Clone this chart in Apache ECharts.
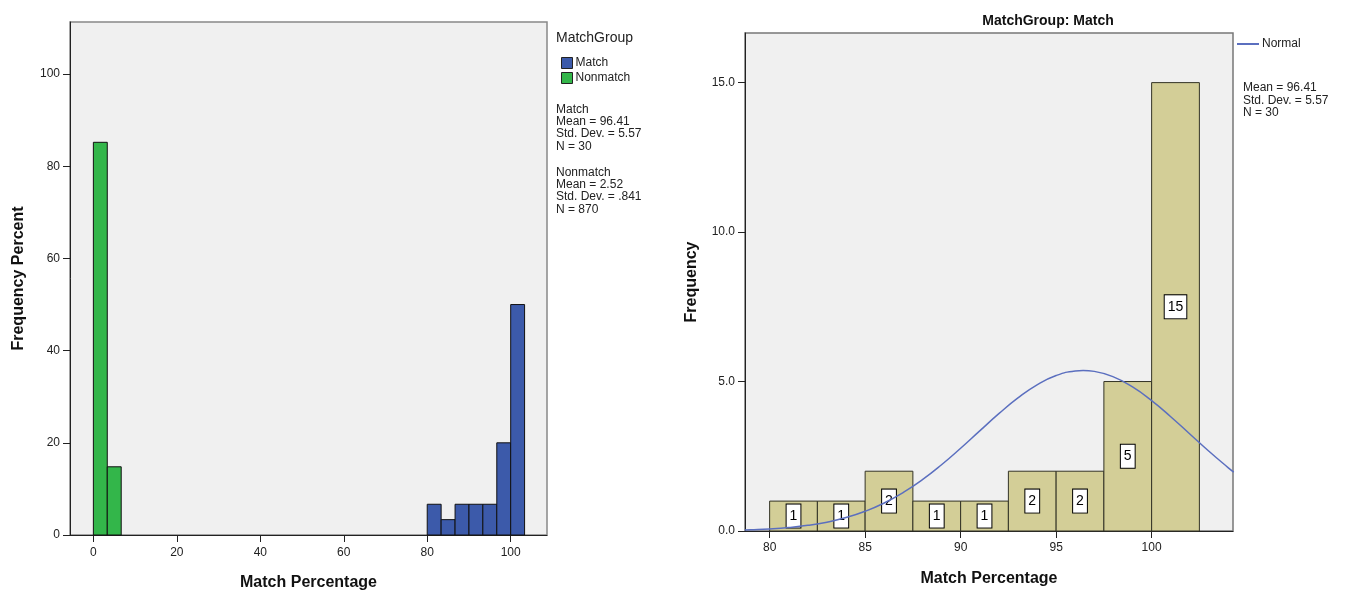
<!DOCTYPE html>
<html>
<head>
<meta charset="utf-8">
<script src="https://cdn.jsdelivr.net/npm/echarts@6/dist/echarts.min.js"></script>
<style>html,body{margin:0;padding:0;background:#fff;}#c{width:1354px;height:592px;}</style>
</head>
<body>
<div id="c"></div>
<script>
// Left panel: frequency percent histograms (bin start, bin end, percent)
const matchPct = [[80,83.33,6.67],[83.33,86.67,3.33],[86.67,90,6.67],[90,93.33,6.67],[93.33,96.67,6.67],[96.67,100,20],[100,103.33,50]];
const nonmatchPct = [[0,3.33,85.2],[3.33,6.67,14.8]];
const leftXTicks = [0,20,40,60,80,100];
const leftYTicks = [0,20,40,60,80,100];
// Right panel: Match group frequency histogram (bin start, bin end, count)
const matchFreq = [[80,82.5,1],[82.5,85,1],[85,87.5,2],[87.5,90,1],[90,92.5,1],[92.5,95,2],[95,97.5,2],[97.5,100,5],[100,102.5,15]];
// Normal curve points (x, frequency)
const normalCurve = [[78.7,0.034],[79,0.041],[80,0.070],[81,0.117],[82,0.189],[83,0.296],[84,0.449],[85,0.659],[86,0.937],[87,1.289],[88,1.717],[89,2.217],[90,2.770],[91,3.350],[92,3.925],[93,4.452],[94,4.890],[95,5.201],[96,5.355],[96.41,5.37],[97,5.340],[98,5.155],[99,4.820],[100,4.363],[101,3.824],[102,3.245],[103,2.667],[104,2.122],[104.3,1.969]];
const rightXTicks = [80,85,90,95,100];
const rightYTicks = [0,5,10,15];
const matchStats = ['Match','Mean = 96.41','Std. Dev. = 5.57','N = 30'];
const nonmatchStats = ['Nonmatch','Mean = 2.52','Std. Dev. = .841','N = 870'];
const rightStats = ['Mean = 96.41','Std. Dev. = 5.57','N = 30'];

const FONT = 'Liberation Sans, Arial, sans-serif';
const chart = echarts.init(document.getElementById('c'));

function histRender(withLabel) {
  return function (params, api) {
    const x0 = api.value(0), x1 = api.value(1), v = api.value(2);
    const p0 = api.coord([x0, v]);
    const p1 = api.coord([x1, 0]);
    const el = {
      type: 'rect',
      shape: { x: p0[0], y: p0[1], width: p1[0] - p0[0], height: p1[1] - p0[1] },
      style: api.style({ stroke: withLabel ? '#333326' : '#111', lineWidth: 1 })
    };
    if (withLabel) {
      el.textContent = {
        style: {
          text: String(v), fill: '#000', fontSize: 14, fontFamily: FONT,
          backgroundColor: '#fff', borderColor: '#000', borderWidth: 1, padding: [5, 3, 4, 3]
        }
      };
      el.textConfig = { position: 'inside' };
    }
    return el;
  };
}

const axisCommon = {
  axisLine: { show: true, onZero: false, lineStyle: { color: '#222', width: 1 } },
  axisTick: { show: true, length: 7, lineStyle: { color: '#222' } },
  axisLabel: { color: '#222', fontSize: 12, fontFamily: FONT, margin: 10 },
  splitLine: { show: false },
  nameTextStyle: { color: '#111', fontSize: 16, fontWeight: 'bold', fontFamily: FONT }
};

function mk(base, extra) { return echarts.util.merge(echarts.util.clone(base), extra, true); }

const option = {
  animation: false,
  backgroundColor: '#fff',
  textStyle: { fontFamily: FONT },
  title: {
    text: 'MatchGroup: Match', left: 1043, top: 9, textAlign: 'center',
    textStyle: { fontSize: 14, fontWeight: 'bold', color: '#111', fontFamily: FONT }
  },
  legend: [
    {
      data: [
        { name: 'Match', itemStyle: { color: '#3c5aaa', borderColor: '#222', borderWidth: 1 } },
        { name: 'Nonmatch', itemStyle: { color: '#33b64a', borderColor: '#222', borderWidth: 1 } }
      ],
      orient: 'vertical', left: 561, top: 57, padding: 0, itemWidth: 11, itemHeight: 11, itemGap: 3,
      icon: 'rect', selectedMode: false,
      textStyle: { fontSize: 12, color: '#222', fontFamily: FONT, padding: [0, 0, 0, -2] }
    },
    {
      data: [{ name: 'Normal', icon: 'rect', itemStyle: { color: '#5b6fbf' } }],
      left: 1237, top: 38, padding: 0, itemWidth: 22, itemHeight: 2, selectedMode: false,
      textStyle: { fontSize: 12, color: '#222', fontFamily: FONT, padding: [0, 0, 0, -2] }
    }
  ],
  grid: [
    { left: 70, top: 22, width: 477, height: 513, outerBoundsMode: 'none', containLabel: false, show: true, backgroundColor: '#f0f0f0', borderColor: '#888', borderWidth: 1.5 },
    { left: 745, top: 33, width: 488, height: 498, outerBoundsMode: 'none', containLabel: false, show: true, backgroundColor: '#f0f0f0', borderColor: '#777', borderWidth: 1.5 }
  ],
  xAxis: [
    mk(axisCommon, {
      type: 'value', gridIndex: 0, min: -5.6, max: 108.7,
      name: 'Match Percentage', nameLocation: 'middle', nameGap: 40,
      axisTick: { customValues: leftXTicks }, axisLabel: { customValues: leftXTicks, margin: 12 }
    }),
    mk(axisCommon, {
      type: 'value', gridIndex: 1, min: 78.71, max: 104.26,
      name: 'Match Percentage', nameLocation: 'middle', nameGap: 40,
      axisTick: { customValues: rightXTicks }, axisLabel: { customValues: rightXTicks, margin: 11 }
    })
  ],
  yAxis: [
    mk(axisCommon, {
      type: 'value', gridIndex: 0, min: 0, max: 111.3,
      name: 'Frequency Percent', nameLocation: 'middle', nameGap: 43, nameRotate: 90,
      axisTick: { customValues: leftYTicks }, axisLabel: { customValues: leftYTicks }
    }),
    mk(axisCommon, {
      type: 'value', gridIndex: 1, min: 0, max: 16.66,
      name: 'Frequency', nameLocation: 'middle', nameGap: 45, nameRotate: 90,
      axisTick: { customValues: rightYTicks },
      axisLabel: { customValues: rightYTicks, formatter: v => Number(v).toFixed(1) }
    })
  ],
  series: [
    {
      name: 'Match', type: 'custom', xAxisIndex: 0, yAxisIndex: 0,
      itemStyle: { color: '#3c5aaa' }, renderItem: histRender(false),
      encode: { x: [0, 1], y: 2 }, data: matchPct
    },
    {
      name: 'Nonmatch', type: 'custom', xAxisIndex: 0, yAxisIndex: 0,
      itemStyle: { color: '#33b64a' }, renderItem: histRender(false),
      encode: { x: [0, 1], y: 2 }, data: nonmatchPct
    },
    {
      name: 'Frequency', type: 'custom', xAxisIndex: 1, yAxisIndex: 1,
      itemStyle: { color: '#d3ce97' }, renderItem: histRender(true),
      encode: { x: [0, 1], y: 2 }, data: matchFreq
    },
    {
      name: 'Normal', type: 'line', xAxisIndex: 1, yAxisIndex: 1,
      data: normalCurve, smooth: true, symbol: 'none', showSymbol: false,
      lineStyle: { color: '#5b6fbf', width: 1.5 }, itemStyle: { color: '#5b6fbf' }, z: 5
    }
  ],
  graphic: [
    { type: 'text', left: 556, top: 31, style: { text: 'MatchGroup', fontSize: 14, fill: '#222', fontFamily: FONT } },
    { type: 'text', left: 556, top: 103, style: { text: matchStats.join('\n'), fontSize: 12, lineHeight: 12.4, fill: '#222', fontFamily: FONT } },
    { type: 'text', left: 556, top: 166, style: { text: nonmatchStats.join('\n'), fontSize: 12, lineHeight: 12.4, fill: '#222', fontFamily: FONT } },
    { type: 'text', left: 1243, top: 82, style: { text: rightStats.join('\n'), fontSize: 12, lineHeight: 12.2, fill: '#222', fontFamily: FONT } }
  ]
};
chart.setOption(option);
</script>
</body>
</html>
